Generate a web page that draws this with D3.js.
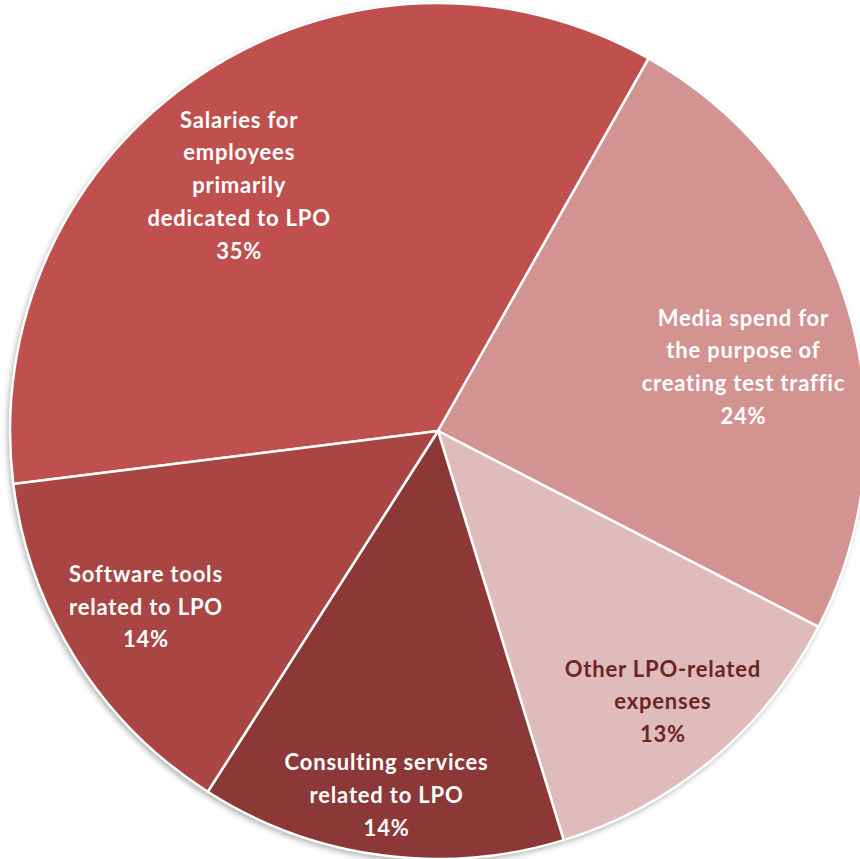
<!DOCTYPE html>
<html><head><meta charset="utf-8">
<script src="https://cdn.jsdelivr.net/npm/d3@7"></script>
<style>html,body{margin:0;padding:0;background:#fff;}svg{display:block;}</style>
</head><body>
<script>
const categories = [
  ["Salaries for","employees","primarily","dedicated to LPO"],
  ["Media spend for","the purpose of","creating test traffic"],
  ["Other LPO-related","expenses"],
  ["Consulting services","related to LPO"],
  ["Software tools","related to LPO"]
];
const values = [35.2, 24.4, 12.7, 13.8, 14.0];
const percentLabels = ["35%","24%","13%","14%","14%"];
const colors = ["#C0504D","#D39391","#E0BBBB","#8C3836","#A94542"];
const textColors = ["#fff","#fff","#6B2523","#fff","#fff"];
const labelRadius = [316, 312, 352, 368, 341];
const labelAngleShift = [-5.2, 4.8, 0.2, 0.3, 1.2];

const W = 860, H = 859;
const cx = 438, cy = 431, R = 428;
const startDeg = -97.1;

const svg = d3.select("body").append("svg").attr("width", W).attr("height", H);
const defs = svg.append("defs");
const f = defs.append("filter").attr("id","sh").attr("x","-10%").attr("y","-10%").attr("width","120%").attr("height","120%");
f.append("feDropShadow").attr("dx",-2).attr("dy",3).attr("stdDeviation",3).attr("flood-color","#000").attr("flood-opacity",0.35);

const pie = d3.pie().value(d => d).sort(null)
  .startAngle(startDeg*Math.PI/180).endAngle((startDeg+360)*Math.PI/180);
const arcs = pie(values);
const arc = d3.arc().innerRadius(0).outerRadius(R);

const g = svg.append("g").attr("transform", `translate(${cx},${cy})`);
g.append("circle").attr("r", R).attr("fill", "#C0504D").attr("filter","url(#sh)");
g.selectAll("path.slice").data(arcs).join("path")
  .attr("class","slice")
  .attr("d", arc)
  .attr("fill", (d,i) => colors[i])
  .attr("stroke", "#fff").attr("stroke-width", 2.5).attr("stroke-linejoin","round");

const lineH = 32.7;
arcs.forEach((d,i) => {
  const a = (d.startAngle + d.endAngle)/2 + labelAngleShift[i]*Math.PI/180;
  const x = Math.sin(a)*labelRadius[i];
  const y = -Math.cos(a)*labelRadius[i];
  const lines = categories[i].concat([percentLabels[i]]);
  const t = g.append("text")
    .attr("text-anchor","middle")
    .attr("font-family","Lato, 'Open Sans', sans-serif")
    .attr("font-weight","bold")
    .attr("font-size", 22)
    .attr("letter-spacing", 0.8)
    .attr("fill", textColors[i]);
  lines.forEach((ln,k) => {
    t.append("tspan").attr("x", x)
      .attr("y", y + (k - (lines.length-1)/2)*lineH)
      .attr("dy","0.35em").text(ln);
  });
});
</script>
</body></html>
